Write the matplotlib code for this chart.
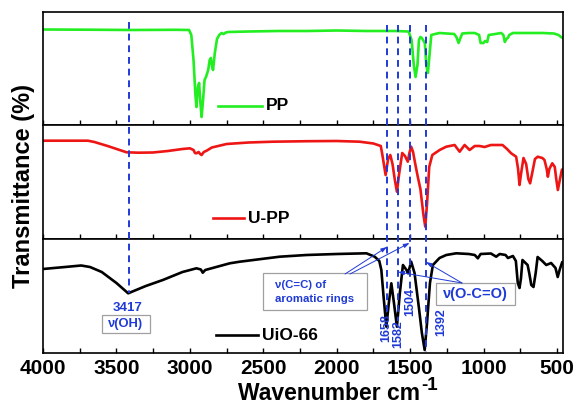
import matplotlib
matplotlib.use("Agg")
import matplotlib.pyplot as plt
from matplotlib.lines import Line2D
from matplotlib.patches import Rectangle
from matplotlib.text import Annotation
from matplotlib.transforms import blended_transform_factory
from matplotlib.ticker import MultipleLocator

plt.rcParams['font.family'] = ['Liberation Sans', 'DejaVu Sans']
plt.rcParams['font.weight'] = 'bold'

# ---------------- spectra (wavenumber, relative transmittance) ----------------
pp_wn = [4000, 3700, 3400, 3100, 3005, 2990, 2975, 2962, 2955, 2945, 2937, 2928,
         2920, 2910, 2900, 2890, 2875, 2865, 2857, 2848, 2842, 2830, 2815, 2800,
         2784, 2770, 2755, 2740, 2600, 2400, 2200, 2000, 1800, 1700, 1600, 1510,
         1490, 1475, 1463, 1450, 1440, 1430, 1420, 1400, 1390, 1379, 1368, 1356,
         1330, 1300, 1250, 1200, 1185, 1170, 1160, 1145, 1100, 1060, 1030, 1020,
         1000, 990, 975, 965, 920, 880, 865, 855, 845, 835, 825, 800, 700, 600,
         520, 490, 472, 460]
pp_t = [95.5, 95.3, 95.0, 95.2, 95.0, 90, 65, 30, 18, 38, 42, 22,
        8, 25, 45, 48, 55, 65, 67, 58, 55, 72, 86, 90,
        92, 91, 92.5, 93, 93.5, 94, 94, 94.5, 94, 94, 94, 93.5,
        85, 60, 48, 60, 85, 88, 87, 82, 60, 52, 70, 90,
        91, 92, 91.5, 91, 88, 82, 86, 91.5, 92, 92, 90, 82,
        82, 84, 83, 90, 91, 92, 90, 83, 86, 87, 90, 92, 92, 92,
        91.5, 90, 88, 87]

upp_wn = [4000, 3694, 3650, 3560, 3431, 3350, 3252, 3150, 3050, 3000, 2975, 2965,
          2955, 2940, 2930, 2920, 2905, 2886, 2850, 2750, 2600, 2435, 2200, 2000,
          1844, 1750, 1700, 1690, 1667, 1650, 1635, 1620, 1605, 1590, 1575, 1554,
          1535, 1516, 1505, 1493, 1480, 1465, 1448, 1430, 1410, 1397, 1385, 1370,
          1349, 1299, 1254, 1197, 1163, 1129, 1095, 1060, 1027, 993, 950, 871,
          840, 812, 778, 765, 755, 745, 728, 710, 695, 683, 670, 650, 631, 600,
          585, 570, 562, 552, 532, 515, 505, 494, 482, 467, 460]
upp_t = [98.3, 98.3, 97, 93, 86.7, 86.3, 86.5, 88, 90, 90.7, 89, 86,
         85.7, 87, 85, 84, 87, 88.3, 91.5, 95, 96.5, 97.3, 97.8, 98,
         97.3, 95.5, 93, 85, 64, 80, 84, 75, 60, 47.3, 65, 86,
         83, 77.3, 86, 92.3, 87, 75, 62.3, 50, 25, 12.3, 35, 72,
         84, 89, 92.3, 94, 87.3, 94, 89, 93, 93, 92, 94, 94,
         90, 85.7, 82.3, 70, 54, 65, 81, 75, 60, 55.7, 65, 80, 82.3, 81,
         79, 70, 62.3, 70, 75.7, 72, 60, 49, 58, 69, 70]

uio_wn = [4000, 3850, 3740, 3680, 3600, 3500, 3420, 3300, 3184, 3050, 2955, 2925,
          2912, 2895, 2728, 2660, 2388, 2206, 2000, 1798, 1741, 1710, 1696, 1680,
          1662, 1645, 1628, 1610, 1590, 1570, 1549, 1525, 1514, 1493, 1470, 1440,
          1420, 1401, 1385, 1365, 1345, 1300, 1254, 1186, 1100, 1060, 1039, 1020,
          950, 914, 890, 850, 834, 800, 780, 767, 755, 745, 735, 700, 689, 675,
          660, 645, 632, 600, 573, 540, 510, 495, 480, 464, 459]
uio_t = [84, 86, 87.5, 86, 81, 70, 59.7, 67, 73, 81, 84.7, 83.5,
         80.3, 83, 89.7, 91.3, 96.3, 98, 99, 99.7, 96.3, 92, 83, 55,
         26.3, 50, 69.7, 50, 26.3, 60, 88, 83, 79.7, 91.3, 80, 45,
         20, 3, 30, 70, 88, 95, 98, 99.7, 99, 98, 94.7, 99,
         99.5, 96.3, 99, 98, 95, 97, 92, 70, 65, 75, 93, 88, 80, 68,
         66, 80, 96, 92, 88, 90, 85, 76, 84, 91, 90]

series = [
    (pp_wn, pp_t, '#22ee22', 'PP'),
    (upp_wn, upp_t, '#ee1515', 'U-PP'),
    (uio_wn, uio_t, '#000000', 'UiO-66'),
]

peaks = [3417, 1658, 1582, 1504, 1392]
peak_labels = ['3417', '1658', '1582', '1504', '1392']

W, H = 578, 405
fig = plt.figure(figsize=(W / 100, H / 100), dpi=100)

def fx(px):
    return px / W

def fy(py):
    return 1 - py / H

left, right = 43, 563
panel_edges = [(12, 125), (125, 239), (239, 353)]
ylims = [(0, 113), (0, 114), (0, 114)]

legend_pos = [(218, 106, 44), (213, 218, 31), (216, 335, 42)]

axes = []
for i, ((top, bot), (wn, t, c, lab)) in enumerate(zip(panel_edges, series)):
    ax = fig.add_axes([fx(left), fy(bot), fx(right) - fx(left), (bot - top) / H])
    ax.plot(wn, t, color=c, lw=1.9, solid_joinstyle='round')
    ax.set_xlim(4000, 459)
    ax.set_ylim(*ylims[i])
    ax.xaxis.set_major_locator(MultipleLocator(500))
    ax.xaxis.set_minor_locator(MultipleLocator(250))
    ax.tick_params(axis='x', which='both', direction='in', length=3.5, width=1.0,
                   top=False, bottom=True, labelbottom=(i == 2), labelsize=15, pad=4)
    ax.set_yticks([])
    for s in ax.spines.values():
        s.set_linewidth(1.2)
    # legend entry: line sample + bold label
    lx, ly, ll = legend_pos[i]
    ax.add_line(Line2D([fx(lx), fx(lx + ll)], [fy(ly), fy(ly)], transform=fig.transFigure,
                       color=c, lw=1.9))
    fig.text(fx(lx + ll + 4), fy(ly), lab, fontsize=12.5, fontweight='bold',
             va='center', ha='left')
    axes.append(ax)

ax3 = axes[2]
for lbl in ax3.get_xticklabels():
    lbl.set_fontweight('bold')

# axis titles
fig.text(fx(420), fy(393), 'Wavenumber cm', fontsize=16.5,
         fontweight='bold', ha='right', va='center')
fig.text(fx(421), fy(385.5), '-1', fontsize=13.5, fontweight='bold', ha='left', va='center')

fig.text(fx(24), fy(186), 'Transmittance (%)', rotation=90, fontsize=17,
         fontweight='bold', ha='center', va='center')

# ---------------- peak markers ----------------
blue = '#1f3ad6'
blend = blended_transform_factory(ax3.transData, fig.transFigure)
dash_spans = {3417: (22, 293), 1658: (25, 315), 1582: (25, 321), 1504: (25, 290), 1392: (25, 352)}
for p in peaks:
    y0, y1 = dash_spans[p]
    fig.add_artist(Line2D([p, p], [fy(y0), fy(y1)], transform=blend, color=blue,
                          lw=1.4, dashes=(3.5, 2.5)))

# wavenumber labels
fig.text(fx(128), fy(308), peak_labels[0], color=blue, fontsize=9.5, fontweight='bold',
         ha='center', va='center')
vert_pos = {'1658': (386.5, 328), '1582': (398.3, 334), '1504': (410, 302), '1392': (441.7, 322)}
for lab in peak_labels[1:]:
    x, y = vert_pos[lab]
    fig.text(fx(x), fy(y), lab, color=blue, fontsize=9, fontweight='bold', rotation=90,
             ha='center', va='center')

# assignment boxes
def box(x0, y0, x1, y1):
    fig.add_artist(Rectangle((fx(x0), fy(y1)), fx(x1) - fx(x0), fy(y0) - fy(y1),
                             transform=fig.transFigure, fc='white', ec='#a0a0a0', lw=0.9))

box(102, 315, 150, 333)
fig.text(fx(126), fy(324.5), 'ν(OH)', color=blue, fontsize=9.3, fontweight='bold',
         ha='center', va='center')

box(263, 273, 367, 310)
fig.text(fx(275), fy(291.5), 'ν(C=C) of\naromatic rings', color=blue, fontsize=8.2,
         fontweight='bold', ha='left', va='center', linespacing=1.5)

box(436, 283, 515, 305)
fig.text(fx(475.5), fy(294), 'ν(O-C=O)', color=blue, fontsize=10.5, fontweight='bold',
         ha='center', va='center')

arrow_kw = dict(arrowstyle='-|>,head_length=0.35,head_width=0.12', color=blue, lw=0.7,
                shrinkA=0, shrinkB=0)
for p, ty, (sx, sy) in [(1658, 247, (345, 274)), (1504, 243, (350, 274)),
                        (1582, 272, (462, 283)), (1392, 262, (462, 283))]:
    fig.add_artist(Annotation('', xy=(p, fy(ty)), xycoords=blend,
                              xytext=(fx(sx), fy(sy)), textcoords='figure fraction',
                              arrowprops=arrow_kw))

fig.savefig('out.png', dpi=100)
